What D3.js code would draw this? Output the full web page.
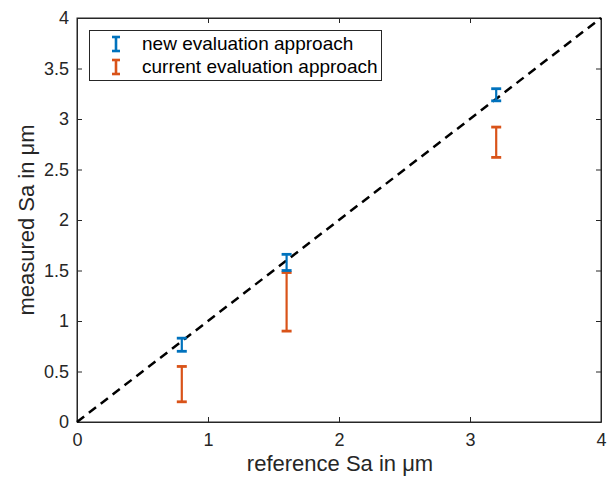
<!DOCTYPE html>
<html><head><meta charset="utf-8">
<script src="https://cdn.jsdelivr.net/npm/d3@7"></script>
<style>body{margin:0;background:#fff}svg{font-family:"Liberation Sans",Arial,sans-serif}</style>
</head><body><svg id="c" width="612" height="484"></svg>
<script>
const refX = [0.8, 1.6, 3.2];
const newLow = [0.70, 1.50, 3.18];
const newHigh = [0.83, 1.66, 3.30];
const curLow = [0.20, 0.90, 2.62];
const curHigh = [0.55, 1.48, 2.92];
const xTicks = [0, 1, 2, 3, 4];
const yTicks = [0, 0.5, 1, 1.5, 2, 2.5, 3, 3.5, 4];
const seriesNames = ["new evaluation approach", "current evaluation approach"];

const svg = d3.select("#c");
const L = 77, R = 601, T = 18, B = 422;
const x = d3.scaleLinear().domain([0, 4]).range([L, R]);
const y = d3.scaleLinear().domain([0, 4]).range([B, T]);
const axCol = "#262626";

svg.append("rect").attr("x", L).attr("y", T).attr("width", R - L).attr("height", B - T)
  .attr("fill", "none").attr("stroke", axCol).attr("stroke-width", 1);

const fmt = d => d3.format("")(d);
const gx = svg.append("g").attr("transform", `translate(0,${B})`)
  .call(d3.axisBottom(x).tickValues(xTicks).tickSizeInner(-5).tickSizeOuter(0).tickPadding(11).tickFormat(fmt));
const gxt = svg.append("g").attr("transform", `translate(0,${T})`)
  .call(d3.axisTop(x).tickValues(xTicks).tickSizeInner(-5).tickSizeOuter(0).tickFormat(""));
const gy = svg.append("g").attr("transform", `translate(${L},0)`)
  .call(d3.axisLeft(y).tickValues(yTicks).tickSizeInner(-5).tickSizeOuter(0).tickPadding(8).tickFormat(fmt));
const gyr = svg.append("g").attr("transform", `translate(${R},0)`)
  .call(d3.axisRight(y).tickValues(yTicks).tickSizeInner(-5).tickSizeOuter(0).tickFormat(""));
[gx, gxt, gy, gyr].forEach(g => {
  g.select(".domain").attr("stroke", axCol);
  g.selectAll(".tick line").attr("stroke", axCol);
  g.selectAll(".tick text").attr("fill", axCol).style("font-size", "18px").style("font-family", '"Liberation Sans",Arial,sans-serif');
});

svg.append("text").attr("x", (L + R) / 2 + 1).attr("y", 471).attr("text-anchor", "middle")
  .attr("fill", axCol).style("font-size", "22px").text("reference Sa in μm");
svg.append("text").attr("transform", `translate(34,${(T + B) / 2}) rotate(-90)`).attr("text-anchor", "middle")
  .attr("fill", axCol).style("font-size", "22px").text("measured Sa in μm");

svg.append("line").attr("x1", x(0)).attr("y1", y(0)).attr("x2", x(4)).attr("y2", y(4))
  .attr("stroke", "#000").attr("stroke-width", 2.5).attr("stroke-dasharray", "9,6");

const colors = ["#0072BD", "#D95319"];
function errbars(lo, hi, col) {
  const g = svg.append("g").attr("stroke", col).attr("stroke-width", 2.2);
  refX.forEach((v, i) => {
    const cx = x(v);
    g.append("line").attr("x1", cx).attr("x2", cx).attr("y1", y(lo[i])).attr("y2", y(hi[i]));
    g.append("line").attr("x1", cx - 5).attr("x2", cx + 5).attr("y1", y(lo[i])).attr("y2", y(lo[i])).attr("stroke-width", 2.8);
    g.append("line").attr("x1", cx - 5).attr("x2", cx + 5).attr("y1", y(hi[i])).attr("y2", y(hi[i])).attr("stroke-width", 2.8);
  });
}
errbars(curLow, curHigh, colors[1]);
errbars(newLow, newHigh, colors[0]);

const lg = svg.append("g");
lg.append("rect").attr("x", 89.5).attr("y", 30.5).attr("width", 292).attr("height", 50)
  .attr("fill", "#fff").attr("stroke", axCol).attr("stroke-width", 1);
seriesNames.forEach((n, i) => {
  const cy = 44 + i * 23;
  const g = lg.append("g").attr("stroke", colors[i]).attr("stroke-width", 2.6);
  g.append("line").attr("x1", 116).attr("x2", 116).attr("y1", cy - 7).attr("y2", cy + 7);
  g.append("line").attr("x1", 112).attr("x2", 120).attr("y1", cy - 7).attr("y2", cy - 7);
  g.append("line").attr("x1", 112).attr("x2", 120).attr("y1", cy + 7).attr("y2", cy + 7);
  lg.append("text").attr("x", 142).attr("y", cy + 6).attr("fill", "#000").style("font-size", "19px").text(n);
});
</script></body></html>
